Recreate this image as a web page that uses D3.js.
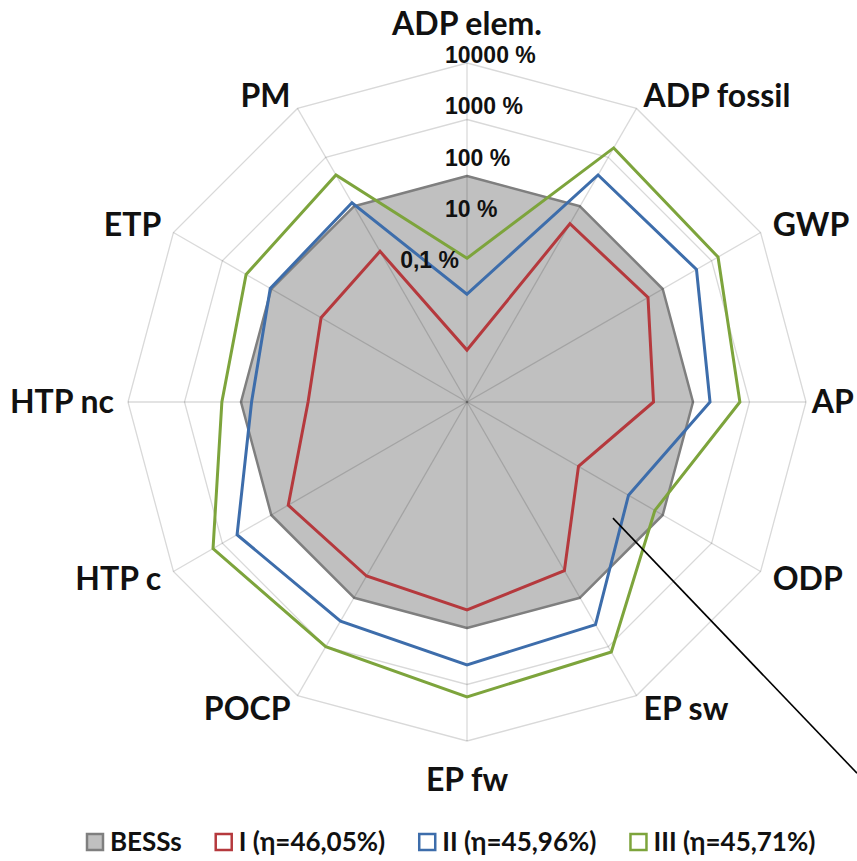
<!DOCTYPE html>
<html>
<head>
<meta charset="utf-8">
<script src="https://cdn.jsdelivr.net/npm/d3@7"></script>
<style>
  body { margin: 0; background: #fff; }
  svg { display: block; }
</style>
</head>
<body>
<div id="chart"></div>
<script>
// categories, clockwise from top
var categories = ["ADP elem.", "ADP fossil", "GWP", "AP", "ODP", "EP sw",
                  "EP fw", "POCP", "HTP c", "HTP nc", "ETP", "PM"];

// values in % of the BESSs reference
var bess      = [100, 100, 100, 100, 100, 100, 100, 100, 100, 100, 100, 100];
var seriesI   = [0.083, 44, 50, 20, 1.9, 28, 48, 36, 45, 6.5, 9.6, 12];
var seriesII  = [0.81, 436, 490, 200, 20, 354, 450, 300, 500, 65, 105, 118];
var seriesIII = [3.5, 1560, 1350, 676, 69, 1285, 1660, 1000, 1550, 218, 327, 436];

var seriesNames = ["BESSs", "I (η=46,05%)", "II (η=45,96%)", "III (η=45,71%)"];

var ringValues = [0.1, 1, 10, 100, 1000, 10000];
var tickLabels = ["10000 %", "1000 %", "100 %", "10 %", "0,1 %"];

var chart_width = 857;
var chart_height = 861;
var cx = 467, cy = 402, R = 339;

var colors = {
    bess: "#c0c0c0",
    bessEdge: "#7f7f7f",
    I: "#b5393d",
    II: "#3d6dab",
    III: "#7da43c"
};

var rScale = d3.scaleLog().domain([0.01, 10000]).range([0, R]);
var angle = d3.scalePoint().domain(categories).range([0, 2 * Math.PI * 11 / 12]);

function pt(cat, r){
    var a = angle(cat);
    return [cx + r * Math.sin(a), cy - r * Math.cos(a)];
}

var line = d3.line().curve(d3.curveLinearClosed);

function polygon(values){
    return line(categories.map(function(c, i){ return pt(c, rScale(values[i])); }));
}

var svg = d3.select("#chart")
            .append("svg")
            .attr("width", chart_width)
            .attr("height", chart_height);

// rings
svg.append("g")
   .selectAll("path")
   .data(ringValues)
   .enter()
   .append("path")
   .attr("d", function(v){
       return line(categories.map(function(c){ return pt(c, rScale(v)); }));
   })
   .attr("fill", "none")
   .attr("stroke", "#d9d9d9")
   .attr("stroke-width", 1.3);

// BESSs area
svg.append("path")
   .attr("d", polygon(bess))
   .attr("fill", colors.bess)
   .attr("stroke", colors.bessEdge)
   .attr("stroke-width", 2.5)
   .attr("stroke-linejoin", "round");

// spokes
svg.append("g")
   .selectAll("line")
   .data(categories)
   .enter()
   .append("line")
   .attr("x1", cx)
   .attr("y1", cy)
   .attr("x2", function(c){ return pt(c, R)[0]; })
   .attr("y2", function(c){ return pt(c, R)[1]; })
   .attr("stroke", "#000")
   .attr("stroke-opacity", 0.15)
   .attr("stroke-width", 1.3);

// series lines
var lines = [
    {values: seriesI, color: colors.I},
    {values: seriesII, color: colors.II},
    {values: seriesIII, color: colors.III}
];

svg.append("g")
   .selectAll("path")
   .data(lines)
   .enter()
   .append("path")
   .attr("d", function(d){ return polygon(d.values); })
   .attr("fill", "none")
   .attr("stroke", function(d){ return d.color; })
   .attr("stroke-width", 3)
   .attr("stroke-linejoin", "miter");

// category labels
var catLabels = svg.append("g")
   .selectAll("text")
   .data(categories)
   .enter()
   .append("text")
   .attr("x", function(c){ return pt(c, R + 14)[0]; })
   .attr("y", function(c){
       var a = angle(c);
       var y = pt(c, R + 15)[1];
       if (Math.abs(Math.sin(a)) < 0.1) y -= Math.cos(a) * 24;
       return y;
   })
   .attr("dy", "0.35em")
   .attr("text-anchor", function(c){
       var s = Math.sin(angle(c));
       return s > 0.1 ? "start" : (s < -0.1 ? "end" : "middle");
   })
   .style("font-family", "Lato, 'Open Sans', sans-serif")
   .style("font-weight", "bold")
   .style("font-size", "32px")
   .style("fill", "#111")
   .text(function(c){ return c; });

// pull back a label that would run past the right edge
catLabels.each(function(){
    var box = this.getBBox();
    if (box.x + box.width > chart_width - 3) {
        d3.select(this).attr("x", +d3.select(this).attr("x") - (box.x + box.width - (chart_width - 3)));
    }
});

// value labels along the top axis
var tickY = d3.scalePoint().domain(tickLabels).range([55, 260]);

svg.append("g")
   .selectAll("text")
   .data(tickLabels)
   .enter()
   .append("text")
   .attr("x", function(t){ return t === "0,1 %" ? cx - 8 : cx - 22; })
   .attr("y", function(t){ return tickY(t); })
   .attr("dy", "0.35em")
   .attr("text-anchor", function(t){ return t === "0,1 %" ? "end" : "start"; })
   .style("font-family", "'Liberation Sans', Arial, sans-serif")
   .style("font-weight", "bold")
   .style("font-size", "23px")
   .style("fill", "#111")
   .text(function(t){ return t; });

// pointer line
var p0 = [cx + rScale(20) * Math.sin(2.243), cy - rScale(20) * Math.cos(2.243)];
svg.append("line")
   .attr("x1", p0[0])
   .attr("y1", p0[1])
   .attr("x2", chart_width)
   .attr("y2", p0[1] + (chart_width - p0[0]) * 1.045)
   .attr("stroke", "#000")
   .attr("stroke-width", 1.6);

// legend
var legendItems = [
    {name: seriesNames[0], fill: colors.bess, stroke: colors.bessEdge},
    {name: seriesNames[1], fill: "#fff", stroke: colors.I},
    {name: seriesNames[2], fill: "#fff", stroke: colors.II},
    {name: seriesNames[3], fill: "#fff", stroke: colors.III}
];

var legend = svg.append("g").attr("transform", "translate(0,842)");
var lx = 86;
legendItems.forEach(function(d){
    legend.append("rect")
          .attr("x", lx + 1)
          .attr("y", -8)
          .attr("width", 16)
          .attr("height", 16)
          .attr("fill", d.fill)
          .attr("stroke", d.stroke)
          .attr("stroke-width", 2.5);
    var t = legend.append("text")
          .attr("x", lx + 24)
          .attr("y", 0)
          .attr("dy", "0.35em")
          .style("font-family", "Lato, 'Open Sans', sans-serif")
          .style("font-weight", "bold")
          .style("font-size", "26px")
          .style("fill", "#111")
          .text(d.name);
    lx += 24 + t.node().getComputedTextLength() + 33;
});
</script>
</body>
</html>
